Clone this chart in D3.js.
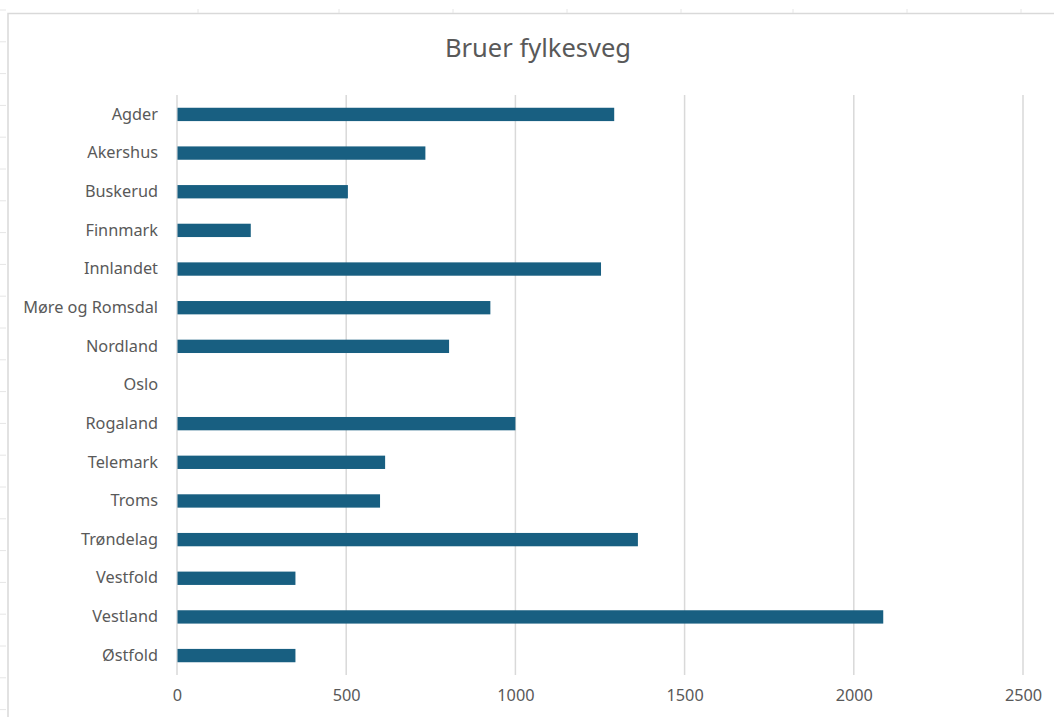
<!DOCTYPE html>
<html>
<head>
<meta charset="utf-8">
<script src="https://cdn.jsdelivr.net/npm/d3@7"></script>
<style>
  html, body { margin: 0; padding: 0; background: #fff; }
  svg { display: block; }
  text { font-family: "Noto Sans", "Open Sans", sans-serif; fill: #595959; }
</style>
</head>
<body>
<svg id="chart"></svg>
<script>
// Bruer fylkesveg - antall bruer per fylke
var fylker = ["Agder", "Akershus", "Buskerud", "Finnmark", "Innlandet", "Møre og Romsdal",
  "Nordland", "Oslo", "Rogaland", "Telemark", "Troms", "Trøndelag", "Vestfold", "Vestland", "Østfold"];
var antall = [1292, 734, 505, 218, 1253, 926, 804, 0, 1000, 615, 600, 1362, 350, 2087, 350];
var xTicks = [0, 500, 1000, 1500, 2000, 2500];
var tittel = "Bruer fylkesveg";

var W = 1054, H = 717;
var margin = { top: 95, right: 31, bottom: 42, left: 177 };
var width = W - margin.left - margin.right;
var height = H - margin.top - margin.bottom;

var svg = d3.select("#chart").attr("width", W).attr("height", H);

// spreadsheet frame behind the chart
var frame = svg.append("g").attr("class", "frame");
frame.append("path")
  .attr("d", "M8," + H + "V13.5H" + W)
  .style("fill", "none").style("stroke", "#d9d9d9").style("stroke-width", 1.5);
d3.range(10, H, 31.8).forEach(function(y) {
  frame.append("line").attr("x1", 0).attr("x2", 6).attr("y1", y).attr("y2", y)
    .style("stroke", "#e6e6e6").style("stroke-width", 1);
});
[198, 339, 453, 567, 681, 793, 907, 1021].forEach(function(x) {
  frame.append("line").attr("x1", x).attr("x2", x).attr("y1", 9).attr("y2", 13)
    .style("stroke", "#e6e6e6").style("stroke-width", 1);
});

svg.append("text")
  .attr("x", 538).attr("y", 57)
  .attr("text-anchor", "middle")
  .style("font-size", "25.5px")
  .text(tittel);

var g = svg.append("g")
  .attr("transform", "translate(" + margin.left + "," + margin.top + ")");

var x = d3.scaleLinear().domain([0, 2500]).range([0, width]);
var y = d3.scaleBand().domain(fylker).range([0, height]).paddingInner(0.655).paddingOuter(0.33);

// gridlines
g.append("g")
  .selectAll("line")
  .data(xTicks)
  .enter().append("line")
  .attr("x1", function(d) { return x(d); })
  .attr("x2", function(d) { return x(d); })
  .attr("y1", 0)
  .attr("y2", height)
  .style("stroke", "#d9d9d9")
  .style("stroke-width", 1.5);

// bars
g.append("g")
  .selectAll("rect")
  .data(fylker)
  .enter().append("rect")
  .attr("x", x(0) + 0.5)
  .attr("y", function(d) { return y(d); })
  .attr("width", function(d, i) { return Math.max(0, x(antall[i]) - x(0) - 0.5); })
  .attr("height", y.bandwidth())
  .style("fill", "#185f81");

// category labels
var yAxis = g.append("g")
  .call(d3.axisLeft(y).tickSize(0).tickPadding(19));
yAxis.select(".domain").remove();
yAxis.selectAll("text").style("font-size", "16.3px").style("fill", "#595959");

// value axis
var xAxis = g.append("g")
  .attr("transform", "translate(0," + height + ")")
  .call(d3.axisBottom(x).tickValues(xTicks).tickSize(0).tickPadding(14).tickFormat(d3.format("d")));
xAxis.select(".domain").remove();
xAxis.selectAll("text").style("font-size", "16.3px").style("fill", "#595959");
</script>
</body>
</html>
